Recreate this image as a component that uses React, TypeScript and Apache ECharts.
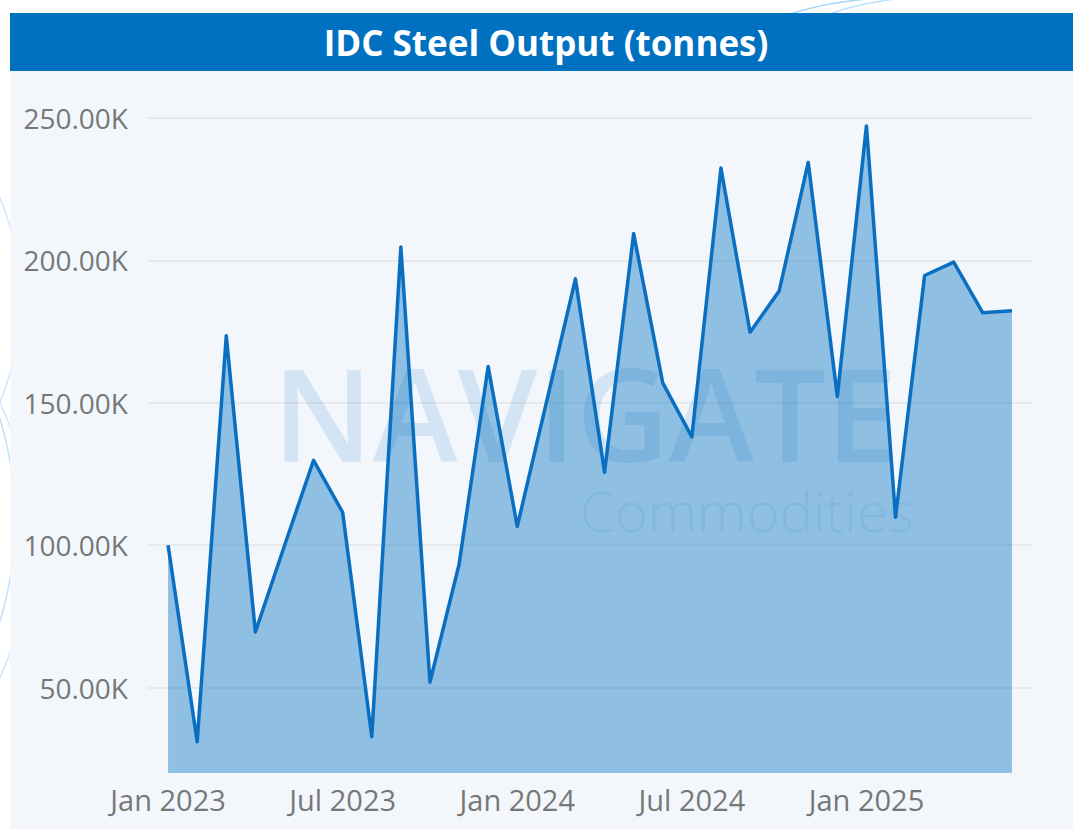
import React, { useEffect, useRef } from "react";
import * as echarts from "echarts";

const months = [
  "Jan 2023", "Feb 2023", "Mar 2023", "Apr 2023", "May 2023", "Jun 2023",
  "Jul 2023", "Aug 2023", "Sep 2023", "Oct 2023", "Nov 2023", "Dec 2023",
  "Jan 2024", "Feb 2024", "Mar 2024", "Apr 2024", "May 2024", "Jun 2024",
  "Jul 2024", "Aug 2024", "Sep 2024", "Oct 2024", "Nov 2024", "Dec 2024",
  "Jan 2025", "Feb 2025", "Mar 2025", "Apr 2025", "May 2025", "Jun 2025",
];

const steelOutput = [
  100000, 31000, 173500, 69500, 99800, 129800,
  111500, 32800, 204700, 51900, 93200, 162700,
  106600, 150000, 193500, 125600, 209400, 157000,
  138000, 232400, 174800, 189200, 234400, 152200,
  247200, 109800, 194700, 199400, 181600, 182300,
];

const xTickLabels = ["Jan 2023", "Jul 2023", "Jan 2024", "Jul 2024", "Jan 2025"];
const yTickValues = [50000, 100000, 150000, 200000, 250000];

const TITLE = "IDC Steel Output (tonnes)";

export default function App() {
  const ref = useRef<HTMLDivElement>(null);

  useEffect(() => {
    if (!ref.current) return;
    const chart = echarts.init(ref.current, undefined, { renderer: "svg" });
    const xIdx = xTickLabels.map((l) => months.indexOf(l));
    const font = "'Open Sans', 'Noto Sans', sans-serif";

    chart.setOption({
      animation: false,
      backgroundColor: "#ffffff",
      graphic: {
        elements: [
          // decorative background curves
          { type: "circle", z: -5, shape: { cx: -330, cy: 520, r: 345 }, style: { fill: "none", stroke: "#bfe0f9", lineWidth: 1.5 } },
          { type: "circle", z: -5, shape: { cx: -300, cy: 540, r: 330 }, style: { fill: "none", stroke: "#cfe7fa", lineWidth: 1.5 } },
          { type: "circle", z: -5, shape: { cx: -250, cy: 300, r: 270 }, style: { fill: "none", stroke: "#cfe7fa", lineWidth: 1.5 } },
          { type: "bezierCurve", z: -5, shape: { x1: 790, y1: 14, x2: 880, y2: -2, cpx1: 820, cpy1: 4, cpx2: 850, cpy2: 0 }, style: { fill: "none", stroke: "#a9d5f7", lineWidth: 1.5 } },
          { type: "bezierCurve", z: -5, shape: { x1: 830, y1: 14, x2: 900, y2: -2, cpx1: 850, cpy1: 6, cpx2: 875, cpy2: 2 }, style: { fill: "none", stroke: "#bfe0f9", lineWidth: 1.5 } },
          // panel
          { type: "rect", z: -2, shape: { x: 10, y: 70, width: 1063, height: 759 }, style: { fill: "rgba(242,247,252,0.95)" } },
          // title bar
          { type: "rect", z: -1, shape: { x: 10, y: 13, width: 1063, height: 58 }, style: { fill: "#0070c0" } },
          {
            type: "text", z: 10, x: 546, y: 42,
            style: { text: TITLE, fill: "#ffffff", font: `bold 35px ${font}`, textAlign: "center", textVerticalAlign: "middle" },
          },
          // watermark
          {
            type: "text", z: 100, x: 585, y: 412, silent: true,
            style: { text: "NAVIGATE", fill: "rgba(0,112,192,0.13)", font: `600 128px ${font}`, lineHeight: 94, textAlign: "center", textVerticalAlign: "middle" },
          },
          {
            type: "text", z: 100, x: 747, y: 510, silent: true,
            style: { text: "Commodities", fill: "rgba(0,112,192,0.09)", font: `300 56px ${font}`, lineHeight: 46, textAlign: "center", textVerticalAlign: "middle" },
          },
        ],
      },
      grid: { left: 148, right: 41, top: 89.5, bottom: 56, containLabel: false },
      xAxis: {
        type: "value",
        min: -0.69,
        max: months.length - 1 + 0.69,
        axisLine: { show: false },
        axisTick: { show: false, customValues: xIdx },
        splitLine: { show: false },
        axisLabel: {
          customValues: xIdx,
          formatter: (v: number) => months[Math.round(v)] ?? "",
          color: "#777777",
          fontSize: 29,
          fontFamily: font,
          margin: 12,
        },
      },
      yAxis: {
        type: "value",
        min: 20000,
        max: 260000,
        axisLine: { show: false },
        axisTick: { show: false, customValues: yTickValues },
        axisLabel: {
          customValues: yTickValues,
          formatter: (v: number) => (v / 1000).toFixed(2) + "K",
          color: "#777777",
          fontSize: 28,
          fontFamily: font,
          margin: 20,
        },
        splitLine: { show: true, lineStyle: { color: "#e4e4e4", width: 1.5 } },
      },
      series: [
        {
          type: "line",
          data: steelOutput.map((v, i) => [i, v]),
          symbol: "none",
          lineStyle: { color: "#0a6fc0", width: 3.5, join: "round" },
          areaStyle: { color: "#0070c0", opacity: 0.41 },
          z: 2,
        },
      ],
    });
    return () => chart.dispose();
  }, []);

  return (
    <div style={{ position: "absolute", left: 0, top: 0, width: 1073, height: 829 }}>
      <div ref={ref} style={{ width: 1073, height: 829 }} />
    </div>
  );
}
